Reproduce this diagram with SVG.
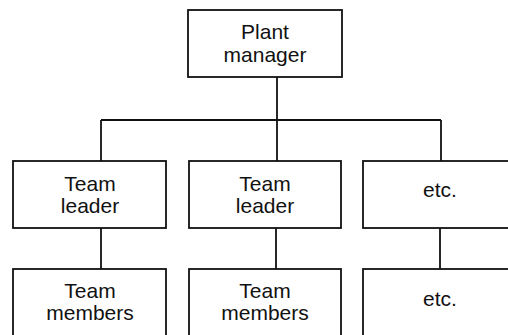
<svg xmlns="http://www.w3.org/2000/svg" width="508" height="335" viewBox="0 0 508 335">
<style>
.box{fill:#fff;stroke:#111;stroke-width:1.8}
.t{font-family:"Liberation Sans",Arial,sans-serif;font-size:21px;fill:#111;text-anchor:middle}
.c{fill:none;stroke:#111;stroke-width:1.8}
</style>
<rect width="508" height="335" fill="#fff"/>
<g id="connectors">
<path class="c" d="M277 77V120M101 120H441M101 120V161M277 120V161M441 120V161M101 228V269M276 228V269M440 228V269"/>
</g>
<g id="plant-manager"><rect class="box" x="188" y="10" width="154" height="67"/><text class="t" x="265" y="39">Plant</text><text class="t" x="265" y="62">manager</text></g>
<g id="team-leader-1"><rect class="box" x="13" y="161" width="153" height="67"/><text class="t" x="90" y="191">Team</text><text class="t" x="90" y="213">leader</text></g>
<g id="team-leader-2"><rect class="box" x="189" y="161" width="152" height="67"/><text class="t" x="265" y="191">Team</text><text class="t" x="265" y="213">leader</text></g>
<g id="etc-1"><rect class="box" x="363" y="161" width="153" height="67"/><text class="t" x="440" y="197">etc.</text></g>
<g id="team-members-1"><rect class="box" x="13" y="269" width="153" height="80"/><text class="t" x="90" y="298">Team</text><text class="t" x="90" y="320">members</text></g>
<g id="team-members-2"><rect class="box" x="189" y="269" width="152" height="80"/><text class="t" x="265" y="298">Team</text><text class="t" x="265" y="320">members</text></g>
<g id="etc-2"><rect class="box" x="363" y="269" width="153" height="80"/><text class="t" x="440" y="306">etc.</text></g>
</svg>
